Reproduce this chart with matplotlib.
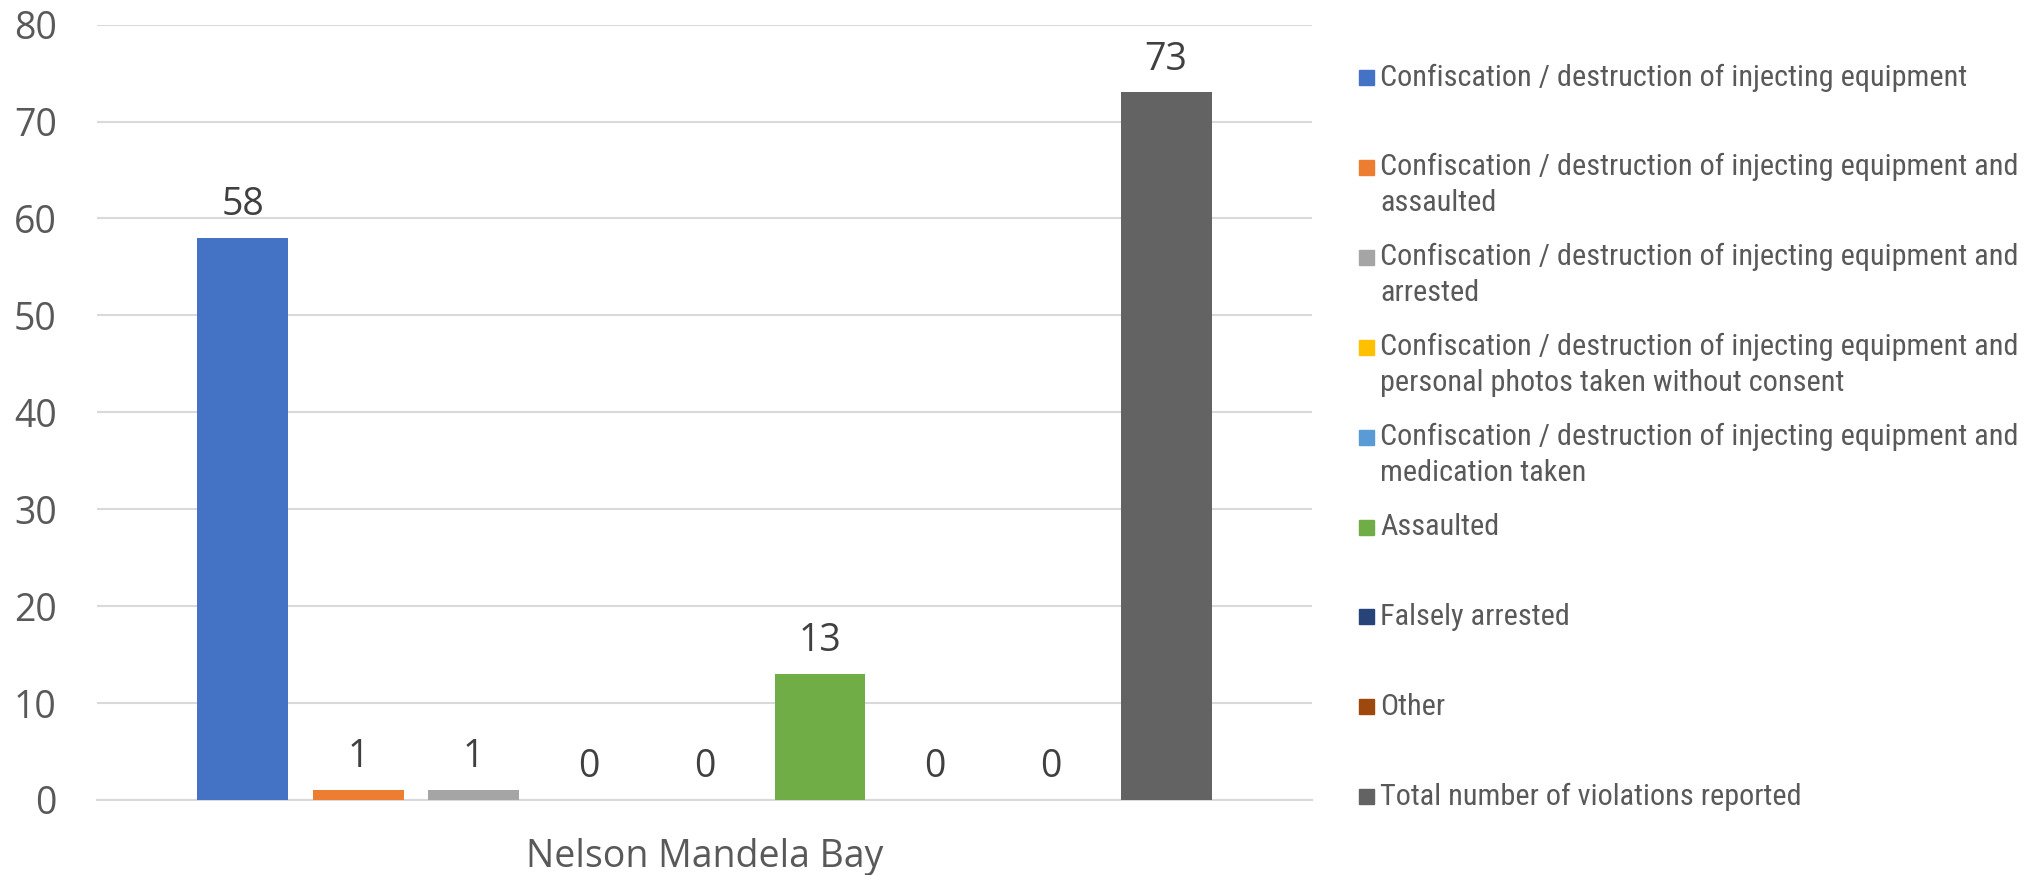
import matplotlib
matplotlib.use("Agg")
import matplotlib.pyplot as plt
from matplotlib.patches import Rectangle
from matplotlib import font_manager

category = "Nelson Mandela Bay"
series_labels = [
    "Confiscation / destruction of injecting equipment",
    "Confiscation / destruction of injecting equipment and\nassaulted",
    "Confiscation / destruction of injecting equipment and\narrested",
    "Confiscation / destruction of injecting equipment and\npersonal photos taken without consent",
    "Confiscation / destruction of injecting equipment and\nmedication taken",
    "Assaulted",
    "Falsely arrested",
    "Other",
    "Total number of violations reported",
]
values = [58, 1, 1, 0, 0, 13, 0, 0, 73]
colors = ["#4472C4", "#ED7D31", "#A5A5A5", "#FFC000", "#5B9BD5",
          "#70AD47", "#264478", "#9E480E", "#636363"]
yticks = [0, 10, 20, 30, 40, 50, 60, 70, 80]

names = {f.name for f in font_manager.fontManager.ttflist}
legend_font = "Roboto"
for cand in ["Roboto Condensed", "Liberation Sans Narrow", "Open Sans Condensed",
             "Noto Sans Condensed", "Roboto"]:
    if cand in names:
        legend_font = cand
        break
num_font = "Open Sans"

W, H = 2033, 875
fig = plt.figure(figsize=(W / 100, H / 100), dpi=100)
ax = fig.add_axes([97 / W, 1 - 800 / H, (1312 - 97) / W, (800 - 24.6) / H])

n = len(values)
slot = 89 / 937
bw = 70 / 937
for i, (v, c) in enumerate(zip(values, colors)):
    x = (i - (n - 1) / 2) * slot
    ax.bar(x, v, width=bw, color=c, zorder=3)
    ax.annotate(str(v), (x, v), xytext=(0, 10), textcoords="offset points",
                ha="center", va="bottom", fontsize=27, color="#404040",
                family=num_font)

ax.set_xlim(-0.5, 0.5)
ax.set_ylim(0, 80)
ax.set_yticks(yticks)
ax.set_yticklabels([str(t) for t in yticks], fontsize=27, color="#595959",
                   family=num_font)
ax.set_xticks([0])
ax.set_xticklabels([category], fontsize=27, color="#595959", family=num_font)
ax.tick_params(axis="both", length=0)
ax.tick_params(axis="y", pad=29)
ax.tick_params(axis="x", pad=27)
ax.grid(axis="y", color="#D9D9D9", linewidth=1.5, zorder=0)
for s in ["top", "right", "left"]:
    ax.spines[s].set_visible(False)
ax.spines["bottom"].set_color("#D9D9D9")
ax.spines["bottom"].set_linewidth(1.5)

# Fit legend font size so the longest single line spans ~585 px like the reference
renderer = fig.canvas.get_renderer()
probe = fig.text(0, 0, series_labels[0], fontsize=20, family=legend_font)
wpx = probe.get_window_extent(renderer).width
probe.remove()
lfs = 20 * 585 / wpx

# Legend (manual, Excel-like layout)
y0 = 77.5
step = 89.9
line_gap = 35.5
for i, (lab, c) in enumerate(zip(series_labels, colors)):
    yc = y0 + i * step
    fig.patches.append(Rectangle((1359 / W, 1 - (yc + 7.5) / H), 15 / W, 15 / H,
                                 transform=fig.transFigure, color=c))
    for j, line in enumerate(lab.split("\n")):
        fig.text(1380 / W, 1 - (yc + j * line_gap) / H, line, ha="left",
                 va="center", fontsize=lfs, color="#595959", family=legend_font)

fig.savefig("out.png", dpi=100, facecolor="white")
